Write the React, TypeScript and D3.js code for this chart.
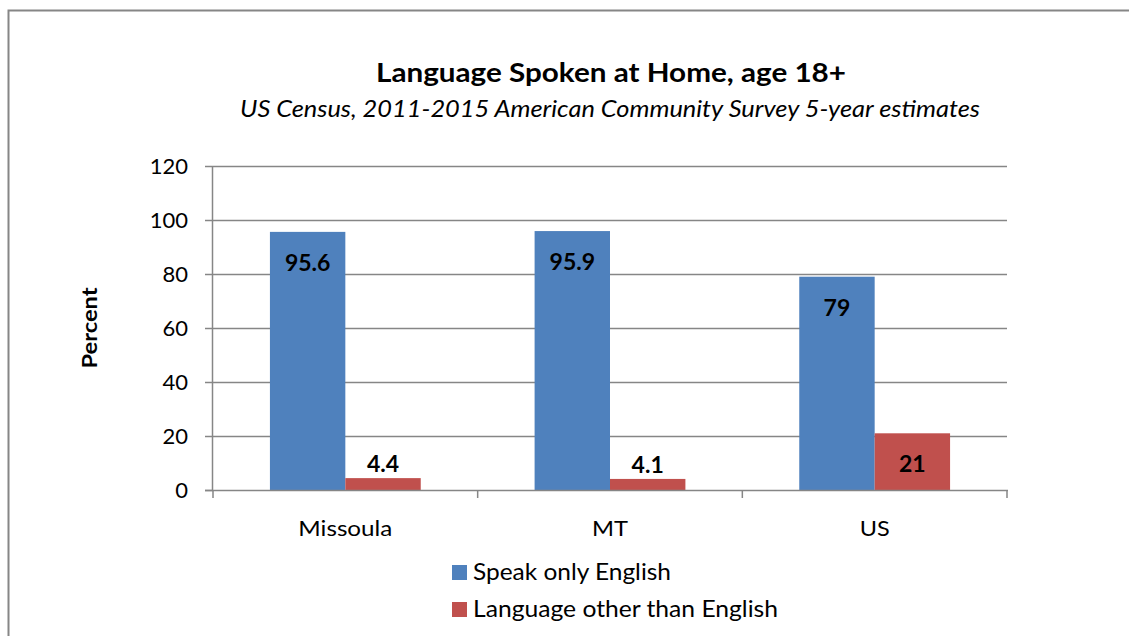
import React, { useEffect, useRef } from 'react';
import * as d3 from 'd3';

const categories = ['Missoula', 'MT', 'US'];
const categoryWidths = [94, 36, 30];
const seriesNames = ['Speak only English', 'Language other than English'];
const legendWidths = [198, 305];
const englishOnly = [95.6, 95.9, 79];
const otherLanguage = [4.4, 4.1, 21];
const yTicks = [0, 20, 40, 60, 80, 100, 120];
const colors = ['#4F81BD', '#C0504D'];

const FONT = 'Lato, "Open Sans", sans-serif';

const App: React.FC = () => {
  const svgRef = useRef<SVGSVGElement>(null);

  useEffect(() => {
    if (!svgRef.current) return;
    const W = 1129;
    const H = 636;
    const svg = d3.select(svgRef.current);
    svg.selectAll('*').remove();
    svg.attr('width', W).attr('height', H);

    // outer chart border (runs off right and bottom)
    svg.append('rect')
      .attr('x', 8.5).attr('y', 10.5)
      .attr('width', 1140).attr('height', 640)
      .attr('fill', '#fff').attr('stroke', '#868686').attr('stroke-width', 2);

    const left = 213;
    const right = 1007;
    const top = 166;
    const bottom = 490;

    const x0 = d3.scaleBand().domain(categories).range([left, right]).paddingInner(0).paddingOuter(0);
    const x1 = d3.scaleBand().domain(['0', '1']).range([0, x0.bandwidth()]).paddingOuter(0.755).paddingInner(0);
    const y = d3.scaleLinear().domain([0, 120]).range([bottom, top]);

    // gridlines
    svg.append('g').selectAll('line').data(yTicks.filter(t => t > 0)).enter().append('line')
      .attr('x1', left).attr('x2', right)
      .attr('y1', d => Math.round(y(d)) + 0.5).attr('y2', d => Math.round(y(d)) + 0.5)
      .attr('stroke', '#868686').attr('stroke-width', 1.5);

    // bars
    const rows = categories.map((c, i) => ({ c, vals: [englishOnly[i], otherLanguage[i]] }));
    const grp = svg.append('g').selectAll('g').data(rows).enter().append('g')
      .attr('transform', d => `translate(${x0(d.c)},0)`);
    grp.selectAll('rect').data(d => d.vals.map((v, k) => ({ v, k }))).enter().append('rect')
      .attr('x', d => x1(String(d.k))!)
      .attr('width', x1.bandwidth())
      .attr('y', d => y(d.v))
      .attr('height', d => bottom - y(d.v))
      .attr('fill', d => colors[d.k]);
    grp.selectAll('text').data(d => d.vals.map((v, k) => ({ v, k }))).enter().append('text')
      .attr('x', d => x1(String(d.k))! + x1.bandwidth() / 2)
      .attr('y', d => (bottom - y(d.v) > 40 ? y(d.v) + 39 : y(d.v) - 6))
      .attr('text-anchor', 'middle')
      .attr('font-family', FONT).attr('font-weight', 'bold').attr('font-size', 23)
      .attr('fill', '#000')
      .text(d => String(d.v));

    // y axis
    const yAxis = svg.append('g');
    yAxis.append('line').attr('x1', left - 0.5).attr('x2', left - 0.5).attr('y1', top).attr('y2', bottom)
      .attr('stroke', '#868686').attr('stroke-width', 1.5);
    yAxis.selectAll('line.tick').data(yTicks).enter().append('line').attr('class', 'tick')
      .attr('x1', left - 8).attr('x2', left)
      .attr('y1', d => Math.round(y(d)) + 0.5).attr('y2', d => Math.round(y(d)) + 0.5)
      .attr('stroke', '#868686').attr('stroke-width', 1.5);
    yAxis.selectAll('text').data(yTicks).enter().append('text')
      .attr('x', 188).attr('y', d => y(d) + 8)
      .attr('text-anchor', 'end')
      .attr('font-family', FONT).attr('font-size', 22).attr('fill', '#000')
      .text(d => String(d));

    // x axis
    const xAxis = svg.append('g');
    xAxis.append('line').attr('x1', left - 8).attr('x2', right + 1).attr('y1', bottom + 0.5).attr('y2', bottom + 0.5)
      .attr('stroke', '#868686').attr('stroke-width', 1.5);
    const bounds = [left, ...categories.map(c => x0(c)! + x0.bandwidth())];
    xAxis.selectAll('line.tick').data(bounds).enter().append('line').attr('class', 'tick')
      .attr('x1', d => d).attr('x2', d => d).attr('y1', bottom).attr('y2', bottom + 8)
      .attr('stroke', '#868686').attr('stroke-width', 1.5);
    xAxis.selectAll('text').data(categories).enter().append('text')
      .attr('x', d => x0(d)! + x0.bandwidth() / 2).attr('y', 536)
      .attr('text-anchor', 'middle')
      .attr('font-family', FONT).attr('font-size', 22).attr('fill', '#000')
      .attr('textLength', (_, i) => categoryWidths[i]).attr('lengthAdjust', 'spacingAndGlyphs')
      .text(d => d);

    // y axis title
    svg.append('text')
      .attr('transform', `translate(97,${(top + bottom) / 2 - 0}) rotate(-90)`)
      .attr('text-anchor', 'middle')
      .attr('font-family', FONT).attr('font-weight', 'bold').attr('font-size', 21).attr('fill', '#000')
      .attr('textLength', 81).attr('lengthAdjust', 'spacingAndGlyphs')
      .text('Percent');

    // titles
    svg.append('text')
      .attr('x', 611).attr('y', 82).attr('text-anchor', 'middle')
      .attr('font-family', FONT).attr('font-weight', 'bold').attr('font-size', 27).attr('fill', '#000')
      .attr('textLength', 470).attr('lengthAdjust', 'spacingAndGlyphs')
      .text('Language Spoken at Home, age 18+');
    svg.append('text')
      .attr('x', 610).attr('y', 117).attr('text-anchor', 'middle')
      .attr('font-family', FONT).attr('font-style', 'italic').attr('font-size', 23).attr('fill', '#000')
      .attr('textLength', 740).attr('lengthAdjust', 'spacingAndGlyphs')
      .text('US Census, 2011-2015 American Community Survey 5-year estimates');

    // legend
    const leg = svg.append('g').selectAll('g').data(seriesNames).enter().append('g')
      .attr('transform', (_, i) => `translate(452,${565 + i * 37})`);
    leg.append('rect').attr('width', 15).attr('height', 15).attr('fill', (_, i) => colors[i]);
    leg.append('text').attr('x', 21).attr('y', 15)
      .attr('font-family', FONT).attr('font-size', 23).attr('fill', '#000')
      .attr('textLength', (_, i) => legendWidths[i]).attr('lengthAdjust', 'spacingAndGlyphs')
      .text(d => d);
  }, []);

  return (
    <svg
      ref={svgRef}
      style={{ position: 'fixed', left: 0, top: 0, display: 'block', background: '#fff' }}
    />
  );
};

export default App;
